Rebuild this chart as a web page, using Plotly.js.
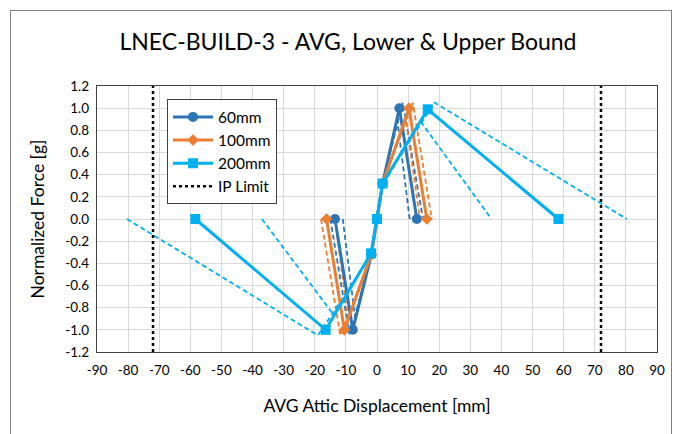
<!DOCTYPE html>
<html>
<head>
<meta charset="utf-8">
<script src="https://cdn.plot.ly/plotly-3.0.1.min.js"></script>
<style>
  html, body { margin: 0; padding: 0; background: #fff; }
  #wrap { position: relative; width: 677px; height: 434px; }
  #chart { width: 677px; height: 434px; }
  #frame { position: absolute; left: 10px; top: 10px; width: 660px; height: 440px; border: 1px solid #7f7f7f; pointer-events: none; }
</style>
</head>
<body>
<div id="wrap"><div id="chart"></div><div id="frame"></div></div>
<script>
// Normalized force levels (g)
const forceAvg = [0, -1.0, -0.32, 0, 0.32, 1.0, 0];
const forceAvg200 = [0, -1.0, -0.31, 0, 0.32, 0.99, 0];
const forceLow = [0, -0.9, -0.3, 0, 0.3, 0.9, 0];
const forceLow200 = [0, -0.87, -0.3, 0, 0.3, 0.88, 0];
const forceUp = [0, -1.05, -0.33, 0, 0.33, 1.05, 0];

// AVG displacement (mm)
const avg60 = [-13.5, -7.8, -1.8, 0, 1.8, 7.2, 12.8];
const avg100 = [-16.2, -10.5, -1.8, 0, 1.8, 10.3, 16.0];
const avg200 = [-58.4, -16.5, -1.9, 0, 1.8, 16.3, 58.3];

// Lower bound displacement (mm)
const low60 = [-11.0, -7.0, -1.8, 0, 1.8, 6.5, 10.5];
const low100 = [-13.5, -9.3, -1.8, 0, 1.8, 9.3, 13.8];
const low200 = [-37.0, -13.8, -1.9, 0, 1.8, 14.0, 36.8];

// Upper bound displacement (mm)
const up60 = [-15.0, -8.8, -1.8, 0, 1.8, 8.3, 14.8];
const up100 = [-18.0, -11.8, -1.8, 0, 1.8, 11.5, 17.6];
const up200 = [-80.4, -19.0, -1.9, 0, 1.8, 18.5, 80.3];

// IP limit (mm)
const ipLimit = 72;

const xTicks = [-90, -80, -70, -60, -50, -40, -30, -20, -10, 0, 10, 20, 30, 40, 50, 60, 70, 80, 90];
const yTicks = [-1.2, -1.0, -0.8, -0.6, -0.4, -0.2, 0.0, 0.2, 0.4, 0.6, 0.8, 1.0, 1.2];

const C60 = '#2E75B6', C100 = '#ED7D31', C200 = '#00B0F0';

function dashed(x, y, color) {
  return { x: x, y: y, mode: 'lines', showlegend: false, hoverinfo: 'skip',
           line: { color: color, width: 1.8, dash: '5px,3px' } };
}

const traces = [
  dashed(low60, forceLow, C60), dashed(up60, forceUp, C60),
  dashed(low100, forceLow, C100), dashed(up100, forceUp, C100),
  dashed(low200, forceLow200, C200), dashed(up200, forceUp, C200),
  { x: avg60, y: forceAvg, name: '60mm', mode: 'lines+markers', legendrank: 1,
    line: { color: C60, width: 3 }, marker: { symbol: 'circle', size: 10, color: C60 } },
  { x: avg100, y: forceAvg, name: '100mm', mode: 'lines+markers', legendrank: 2,
    line: { color: C100, width: 3 }, marker: { symbol: 'diamond', size: 9, color: C100 } },
  { x: avg200, y: forceAvg200, name: '200mm', mode: 'lines+markers', legendrank: 3,
    line: { color: C200, width: 3 }, marker: { symbol: 'square', size: 10, color: C200 } },
  { x: [-ipLimit, -ipLimit, null, ipLimit, ipLimit], y: [-1.2, 1.2, null, -1.2, 1.2],
    name: 'IP Limit', mode: 'lines', legendrank: 4,
    line: { color: '#000000', width: 2.5, dash: 'dot' } }
];

const font = 'Lato, Calibri, "Open Sans", sans-serif';
const layout = {
  width: 677, height: 434,
  margin: { l: 97, r: 20, t: 86, b: 82 },
  paper_bgcolor: '#fff', plot_bgcolor: '#fff',
  font: { family: font, color: '#000', size: 13 },
  title: { text: 'LNEC-BUILD-3 - AVG, Lower & Upper Bound', x: 0.514, xanchor: 'center',
           y: 0.903, yanchor: 'middle', font: { family: font, size: 23, color: '#000' } },
  xaxis: { range: [-90, 90], tickvals: xTicks, ticktext: xTicks.map(String),
           showgrid: true, gridcolor: '#d9d9d9', gridwidth: 1, zeroline: false,
           showline: true, mirror: true, linecolor: '#404040', linewidth: 1.2,
           ticks: '', tickfont: { size: 13.5 }, ticklabelstandoff: 6,
           title: { text: 'AVG Attic Displacement [mm]', font: { size: 17.5 }, standoff: 22 } },
  yaxis: { range: [-1.2, 1.2], tickvals: yTicks, ticktext: yTicks.map(v => v.toFixed(1)),
           showgrid: true, gridcolor: '#d9d9d9', gridwidth: 1, zeroline: false,
           showline: true, mirror: true, linecolor: '#404040', linewidth: 1.2,
           ticks: '', tickfont: { size: 13.5 }, ticklabelstandoff: 4,
           title: { text: 'Normalized Force [g]', font: { size: 17.5 }, standoff: 16 } },
  legend: { x: 0.125, y: 0.95, xanchor: 'left', yanchor: 'top', bgcolor: '#fff',
            bordercolor: '#404040', borderwidth: 1, font: { size: 15.5 },
            tracegroupgap: 0, itemwidth: 40 },
  showlegend: true
};

Plotly.newPlot('chart', traces, layout, { displayModeBar: false, staticPlot: true });
</script>
</body>
</html>
